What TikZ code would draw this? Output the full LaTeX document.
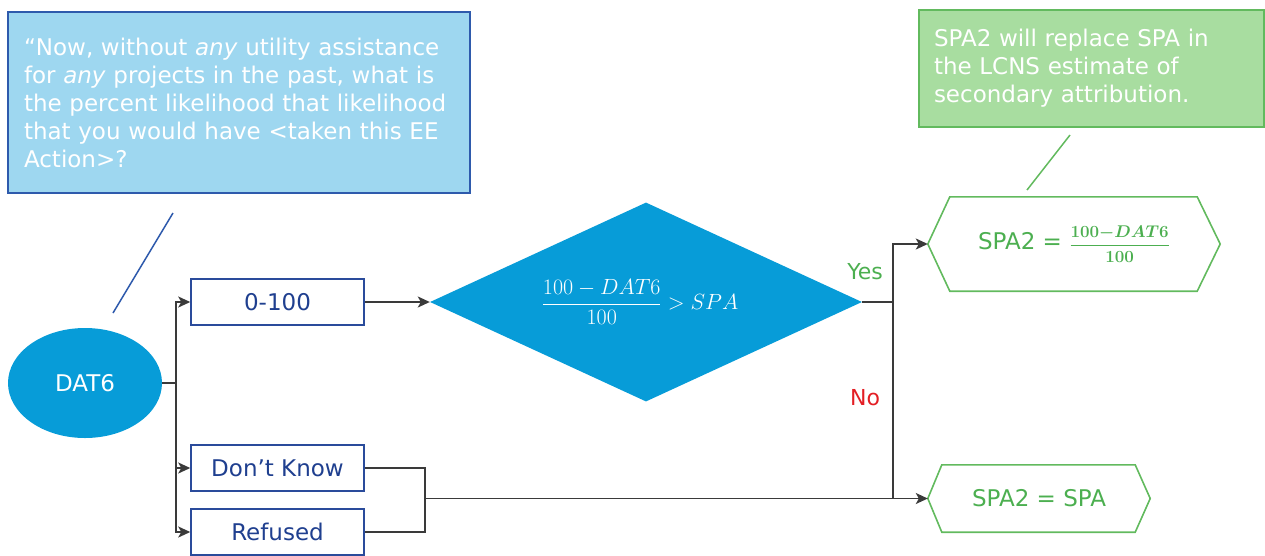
\RequirePackage{fix-cm}
\documentclass[tikz,border=0pt]{standalone}
\usepackage{fontspec}
\usepackage{amsmath}
\usepackage{bm}
\usetikzlibrary{shapes.geometric,arrows.meta}
\newfontfamily\dv{DejaVu Sans}
\definecolor{calfill}{HTML}{9ED7F0}
\definecolor{calborder}{HTML}{2E5AAC}
\definecolor{grfill}{HTML}{A8DDA0}
\definecolor{grborder}{HTML}{62BA5E}
\definecolor{mainblue}{HTML}{079CD8}
\definecolor{boxblue}{HTML}{1F3F8F}
\definecolor{boxborder}{HTML}{2A4B9B}
\definecolor{grtext}{HTML}{4CAF50}
\definecolor{notext}{HTML}{E31E24}
\definecolor{conncol}{HTML}{3A3A3A}
\begin{document}
\begin{tikzpicture}[x=1pt,y=-1pt,
  every node/.style={font=\dv\fontsize{23}{28}\selectfont},
  callbox/.style={draw=calborder,line width=1.6pt,fill=calfill,text=white,inner sep=0pt,align=left},
  grbox/.style={draw=grborder,line width=1.6pt,fill=grfill,text=white,inner sep=0pt,align=left},
  optbox/.style={draw=boxborder,line width=1.5pt,text=boxblue,minimum width=173pt,minimum height=46pt,inner sep=0pt},
  hexnode/.style={inner sep=0pt,text=grtext},
  hexline/.style={draw=grborder,line width=1.6pt,line join=miter},
  conn/.style={draw=conncol,line width=1.6pt},
  arr/.style={conn,-{Stealth[length=12pt,width=11pt,inset=3pt]}},
  leader/.style={line width=1.5pt}
]
\useasboundingbox (0,0) rectangle (1265,555);

% callout boxes
\node[callbox,minimum width=462pt,minimum height=181pt,text width=430pt] (q) at (239,102.5)
  {“Now, without \textit{any} utility assistance\\for \textit{any} projects in the past, what is\\the percent likelihood that likelihood\\that you would have <taken this EE\\Action>?};
\node[grbox,minimum width=345pt,minimum height=117pt,text width=315pt] (note) at (1091.5,68.5)
  {SPA2 will replace SPA in\\the LCNS estimate of\\secondary attribution.};

% leader lines
\coordinate (qa) at (173,213);
\coordinate (qb) at (113,313);
\draw[leader,draw=calborder] (qa) -- (qb);
\coordinate (na) at (1070,135);
\coordinate (nb) at (1027,190);
\draw[leader,draw=grborder] (na) -- (nb);

% main nodes
\node[ellipse,fill=mainblue,text=white,minimum width=154pt,minimum height=110pt,inner sep=0pt] (dat) at (85,383) {DAT6};
\node[optbox] (b1) at (277.5,302) {0-100};
\node[optbox] (b2) at (277.5,468) {Don’t Know};
\node[optbox] (b3) at (277.5,532) {Refused};
\node[diamond,fill=mainblue,minimum width=432pt,minimum height=199pt,inner sep=0pt] (dia) at (646,302) {};
\node[text=white,inner sep=0pt] (cond) at (640,302)
  {\fontsize{22}{22}\selectfont$\dfrac{100-DAT6}{100} > SPA$};

\node[hexnode,minimum width=292pt,minimum height=94pt] (h1) at (1074,244)
  {SPA2 = {\fontsize{17}{17}\selectfont$\bm{\dfrac{100{-}DAT6}{100}}$}};
\draw[hexline] (h1.west) -- ([xshift=22pt]h1.north west) -- ([xshift=-23pt]h1.north east) -- (h1.east)
  -- ([xshift=-23pt]h1.south east) -- ([xshift=22pt]h1.south west) -- cycle;
\node[hexnode,minimum width=222pt,minimum height=67pt] (h2) at (1039,498.5) {SPA2 = SPA};
\draw[hexline] (h2.west) -- ([xshift=14pt]h2.north west) -- ([xshift=-15pt]h2.north east) -- (h2.east)
  -- ([xshift=-15pt]h2.south east) -- ([xshift=14pt]h2.south west) -- cycle;

% connectors
\coordinate (j1) at (176,383);
\draw[conn] (dat.east) -- (j1);
\draw[arr] (j1) |- (b1.west);
\draw[arr] (j1) |- (b2.west);
\draw[arr] (j1) |- (b3.west);
\draw[arr] (b1.east) -- (dia.west);
\coordinate (j2) at (893,302);
\coordinate (j4) at (893,498.5);
\draw[conn] (dia.east) -- (j2);
\draw[arr] (j2) |- (h1.west);
\draw[conn] (j2) -- (j4);
\coordinate (j3) at (425,498.5);
\draw[conn] (b2.east) -| (j3);
\draw[conn] (b3.east) -| (j3);
\draw[arr] (j3) -- (h2.west);

% labels
\node[text=grtext,font=\dv\fontsize{22}{22}\selectfont] (yes) at (865,272) {Yes};
\node[text=notext,font=\dv\fontsize{22}{22}\selectfont] (no) at (865,398) {No};
\end{tikzpicture}
\end{document}
